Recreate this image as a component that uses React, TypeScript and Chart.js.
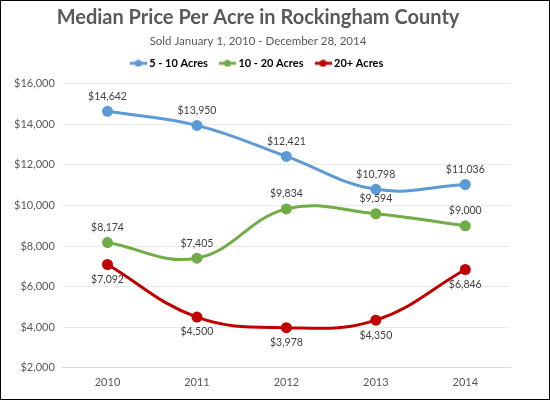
import { useEffect, useRef } from 'react';
import { Chart, registerables } from 'chart.js';
import type { Plugin } from 'chart.js';

Chart.register(...registerables);

const years = ['2010', '2011', '2012', '2013', '2014'];
const fiveToTen = [14642, 13950, 12421, 10798, 11036];
const tenToTwenty = [8174, 7405, 9834, 9594, 9000];
const twentyPlus = [7092, 4500, 3978, 4350, 6846];

const seriesNames = ['5 - 10 Acres', '10 - 20 Acres', '20+ Acres'];
const seriesColors = ['#5B9BD5', '#70AD47', '#C00000'];
// donde va la etiqueta de cada serie
const labelSide = ['above', 'above', 'below'];

const FONT = 'Lato, "Open Sans", sans-serif';
const money = (v: number) => '$' + v.toLocaleString('en-US');

// icono de leyenda: línea con punto
const legendIcon = (color: string) => {
  const c = document.createElement('canvas');
  c.width = 17;
  c.height = 8;
  const ctx = c.getContext('2d');
  if (ctx) {
    ctx.strokeStyle = color;
    ctx.lineWidth = 3;
    ctx.beginPath();
    ctx.moveTo(0, 4);
    ctx.lineTo(17, 4);
    ctx.stroke();
    ctx.fillStyle = color;
    ctx.beginPath();
    ctx.arc(8.5, 4, 3.5, 0, Math.PI * 2);
    ctx.fill();
  }
  return c;
};

// espacio extra bajo la leyenda
const legendGap: Plugin<'line'> = {
  id: 'legendGap',
  beforeInit(chart) {
    const legend = chart.legend as any;
    if (!legend) return;
    const origFit = legend.fit;
    legend.fit = function () {
      origFit.call(this);
      this.height += 5;
    };
  }
};

const valueLabels: Plugin<'line'> = {
  id: 'valueLabels',
  afterDatasetsDraw(chart) {
    const ctx = chart.ctx;
    ctx.save();
    ctx.font = `10.5px ${FONT}`;
    ctx.fillStyle = '#404040';
    ctx.textAlign = 'center';
    ctx.textBaseline = 'middle';
    chart.data.datasets.forEach((ds, i) => {
      const meta = chart.getDatasetMeta(i);
      meta.data.forEach((pt, j) => {
        const v = ds.data[j] as number;
        const dy = labelSide[i] === 'above' ? -15 : 15;
        ctx.fillText(money(v), pt.x, pt.y + dy);
      });
    });
    ctx.restore();
  }
};

export default function App() {
  const chartRef = useRef<HTMLCanvasElement>(null);
  const chartInstance = useRef<Chart | null>(null);

  useEffect(() => {
    if (!chartRef.current) return;
    const ctx = chartRef.current.getContext('2d');
    if (!ctx) return;

    const allSeries = [fiveToTen, tenToTwenty, twentyPlus];

    chartInstance.current = new Chart(ctx, {
      type: 'line',
      data: {
        labels: years,
        datasets: allSeries.map((data, i) => ({
          label: seriesNames[i],
          data: data,
          borderColor: seriesColors[i],
          backgroundColor: seriesColors[i],
          borderWidth: 3,
          pointRadius: 4,
          pointHoverRadius: 4,
          pointStyle: 'circle',
          tension: 0.4
        }))
      },
      options: {
        animation: false,
        responsive: true,
        maintainAspectRatio: false,
        layout: {
          padding: { left: 5, right: 39, bottom: 2, top: 0 }
        },
        plugins: {
          title: {
            display: true,
            text: 'Median Price Per Acre in Rockingham County',
            color: '#595959',
            font: { family: FONT, size: 20, weight: 'bold' },
            padding: { top: 5, bottom: 4 }
          },
          subtitle: {
            display: true,
            text: 'Sold January 1, 2010 - December 28, 2014',
            color: '#595959',
            font: { family: FONT, size: 11.5 },
            padding: { top: 0, bottom: -4 }
          },
          legend: {
            display: true,
            position: 'top',
            labels: {
              color: '#404040',
              font: { family: FONT, size: 11, weight: 'bold' },
              usePointStyle: true,
              pointStyleWidth: 11,
              padding: 14,
              generateLabels: () =>
                seriesNames.map((name, i) => ({
                  text: name,
                  datasetIndex: i,
                  fillStyle: seriesColors[i],
                  strokeStyle: seriesColors[i],
                  pointStyle: legendIcon(seriesColors[i]),
                  hidden: false,
                  lineWidth: 0
                }))
            }
          },
          tooltip: { enabled: false }
        },
        scales: {
          x: {
            offset: true,
            grid: { display: false, drawTicks: false },
            border: { display: true, color: '#D9D9D9' },
            ticks: {
              color: '#595959',
              font: { family: FONT, size: 11 },
              padding: 8
            }
          },
          y: {
            min: 2000,
            max: 16000,
            ticks: {
              stepSize: 2000,
              color: '#595959',
              font: { family: FONT, size: 11 },
              padding: 8,
              callback: (v) => money(Number(v))
            },
            grid: { color: '#EBEBEB', drawTicks: false },
            border: { display: false }
          }
        }
      },
      plugins: [legendGap, valueLabels]
    });

    return () => {
      if (chartInstance.current) {
        chartInstance.current.destroy();
      }
    };
  }, []);

  return (
    <div
      style={{
        position: 'absolute',
        left: 0,
        top: 0,
        width: 550,
        height: 400,
        border: '1px solid #000',
        boxSizing: 'border-box',
        background: '#fff'
      }}
    >
      <canvas ref={chartRef}></canvas>
    </div>
  );
}
